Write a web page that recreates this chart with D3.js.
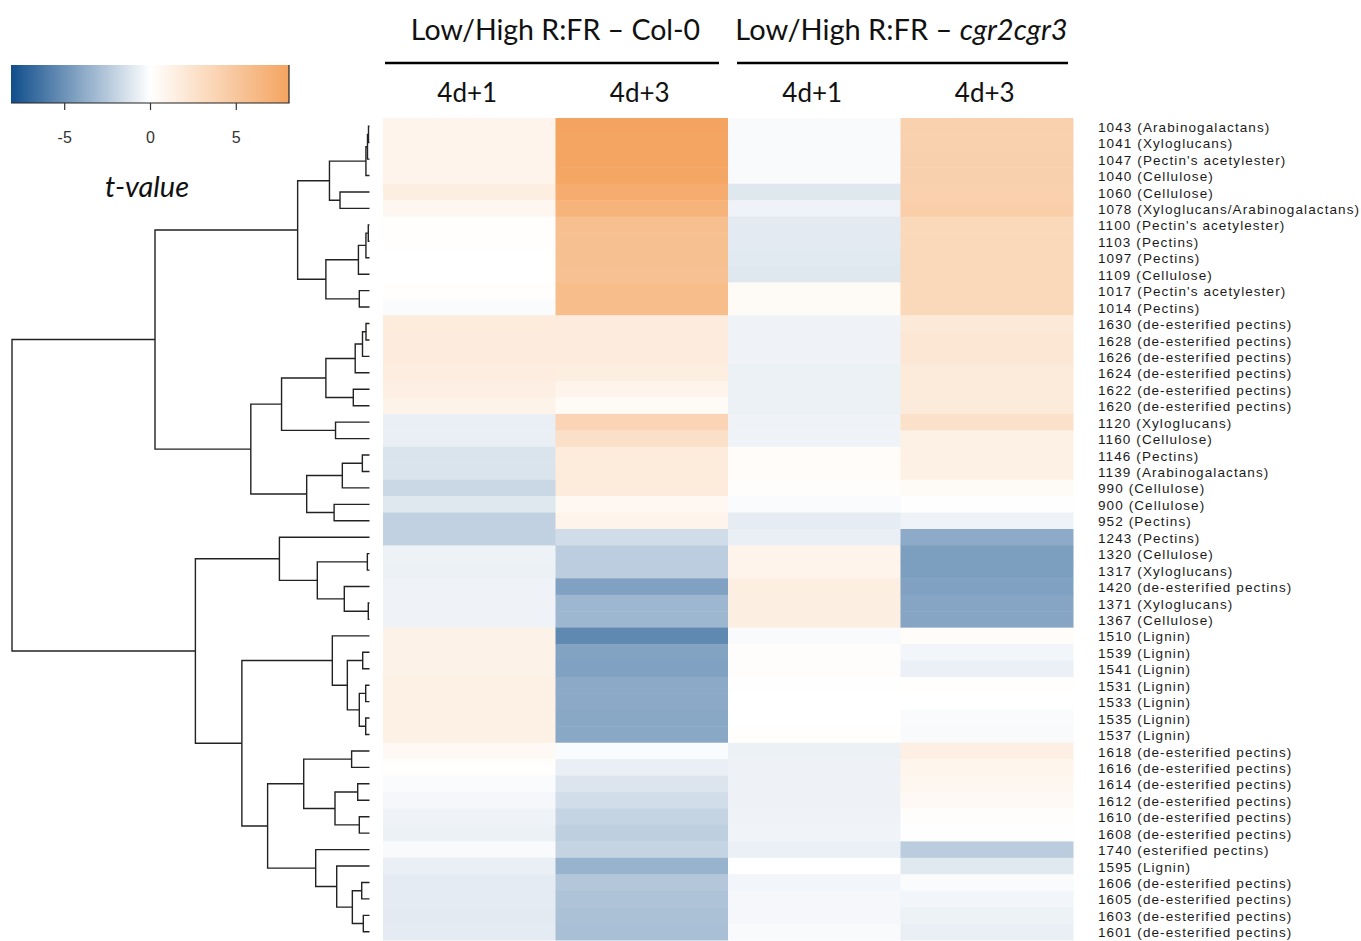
<!DOCTYPE html>
<html>
<head>
<meta charset="utf-8">
<script src="https://cdn.jsdelivr.net/npm/d3@7"></script>
<style>
  body { margin: 0; background: #fff; }
  svg { display: block; }
</style>
</head>
<body>
<svg id="chart" width="1361" height="941"></svg>
<script>
// FTIR wavenumbers (cm-1) with their assigned cell-wall component, in dendrogram order
const rowLabels = [
  "1043 (Arabinogalactans)", "1041 (Xyloglucans)", "1047 (Pectin's acetylester)", "1040 (Cellulose)",
  "1060 (Cellulose)", "1078 (Xyloglucans/Arabinogalactans)", "1100 (Pectin's acetylester)", "1103 (Pectins)",
  "1097 (Pectins)", "1109 (Cellulose)", "1017 (Pectin's acetylester)", "1014 (Pectins)",
  "1630 (de-esterified pectins)", "1628 (de-esterified pectins)", "1626 (de-esterified pectins)",
  "1624 (de-esterified pectins)", "1622 (de-esterified pectins)", "1620 (de-esterified pectins)",
  "1120 (Xyloglucans)", "1160 (Cellulose)", "1146 (Pectins)", "1139 (Arabinogalactans)",
  "990 (Cellulose)", "900 (Cellulose)", "952 (Pectins)", "1243 (Pectins)", "1320 (Cellulose)",
  "1317 (Xyloglucans)", "1420 (de-esterified pectins)", "1371 (Xyloglucans)", "1367 (Cellulose)",
  "1510 (Lignin)", "1539 (Lignin)", "1541 (Lignin)", "1531 (Lignin)", "1533 (Lignin)", "1535 (Lignin)",
  "1537 (Lignin)", "1618 (de-esterified pectins)", "1616 (de-esterified pectins)",
  "1614 (de-esterified pectins)", "1612 (de-esterified pectins)", "1610 (de-esterified pectins)",
  "1608 (de-esterified pectins)", "1740 (esterified pectins)", "1595 (Lignin)",
  "1606 (de-esterified pectins)", "1605 (de-esterified pectins)", "1603 (de-esterified pectins)",
  "1601 (de-esterified pectins)"
];

// Column headers
const titlePrefix = "Low/High R:FR \u2013 ";
const genotypeNames = ["Col-0", "cgr2cgr3"];
const genotypeItalic = [false, true];
const timepoints = ["4d+1", "4d+3", "4d+1", "4d+3"];
const columnKeys = ["col0_d1", "col0_d3", "cgr_d1", "cgr_d3"];

// t-values (Low vs High R:FR), one array per column
const tCol0Day1 = [1.0, 1.0, 1.0, 1.0, 1.5, 0.7, 0.1, 0.1, 0, 0, 0.1, -0.2,
  1.8, 1.7, 1.7, 1.6, 1.4, 1.1, -0.75, -0.75, -1.25, -1.25, -1.8, -1.1, -2.1,
  -2.1, -0.6, -0.65, -0.55, -0.55, -0.55, 1.2, 1.2, 1.2, 1.3, 1.3, 1.3, 1.3,
  0.5, 0.1, -0.2, -0.35, -0.55, -0.65, -0.25, -0.75, -0.9, -0.9, -0.95, -0.9];
const tCol0Day3 = [8.1, 8.0, 8.0, 7.9, 7.4, 6.7, 5.7, 5.6, 5.6, 5.5, 5.9, 5.9,
  1.7, 1.7, 1.7, 1.5, 1.0, 0.4, 3.8, 2.75, 1.8, 1.8, 1.8, 0.6, 1.0,
  -1.6, -2.3, -2.3, -4.3, -3.3, -3.3, -5.4, -4.2, -4.3, -3.9, -3.9, -4.0, -4.0,
  -0.2, -0.75, -1.2, -1.55, -1.95, -2.2, -1.95, -3.5, -2.55, -2.75, -2.85, -2.95];
const tCgrDay1 = [-0.25, -0.25, -0.25, -0.25, -1.1, -0.55, -0.95, -0.95, -1.0, -1.1, 0.45, 0.45,
  -0.55, -0.55, -0.55, -0.65, -0.65, -0.65, -0.55, -0.55, 0.3, 0.3, 0.15, -0.2, -0.85,
  -0.75, 0.95, 0.95, 1.5, 1.5, 1.5, -0.25, 0.15, 0.15, 0.05, 0, 0, 0.1,
  -0.65, -0.58, -0.58, -0.58, -0.55, -0.5, -0.7, 0, -0.45, -0.35, -0.35, -0.25];
const tCgrDay3 = [4.1, 4.1, 4.2, 4.2, 4.1, 4.4, 3.5, 3.5, 3.5, 3.5, 3.5, 3.5,
  2.0, 2.2, 2.2, 1.9, 1.9, 1.9, 2.7, 1.3, 1.3, 1.3, 0.4, 0.05, -0.55,
  -3.85, -4.45, -4.45, -4.3, -4.1, -4.1, 0.3, -0.45, -0.7, 0.1, 0, -0.2, -0.25,
  1.4, 0.9, 0.75, 0.5, 0.2, 0.05, -2.35, -1.05, -0.2, -0.45, -0.6, -0.75];

const legendTicks = [-5, 0, 5];
const legendTitle = "t-value";

// Row clustering: [merge height, left, right]; leaves are row indices
const rowTree =
  [10.0,
    [6.0,
      [2.01,
        [1.12,
          [0.10, [0.056, [0.028, 0, 1], 2], 3],
          [0.825, 4, 5]],
        [1.22,
          [0.31, [0.10, [0.034, 6, 7], 8], 9],
          [0.285, 10, 11]]],
      [3.32,
        [2.46,
          [1.22,
            [0.40, [0.196, [0.098, 12, 13], 14], 15],
            [0.453, 16, 17]],
          [0.95, 18, 19]],
        [1.757,
          [0.76, [0.20, 20, 21], 22],
          [0.99, 23, 24]]]],
    [4.87,
      [2.52,
        25,
        [1.46,
          [0.06, 26, 27],
          [0.705, 28, [0.034, 29, 30]]]],
      [3.57,
        [1.04,
          31,
          [0.62,
            [0.19, 32, 33],
            [0.285, [0.106, 34, 35], [0.106, 36, 37]]]],
        [2.85,
          [1.84,
            [0.50, 38, 39],
            [0.965, [0.33, 40, 41], [0.285, 42, 43]]],
          [1.505,
            44,
            [0.917,
              45,
              [0.48, [0.218, 46, 47], [0.173, 48, 49]]]]]]]];

// ---------------------------------------------------------------------------
const columnValues = [tCol0Day1, tCol0Day3, tCgrDay1, tCgrDay3];
const cells = [];
columnKeys.forEach((key, c) => {
  columnValues[c].forEach((v, r) => cells.push({ key, row: rowLabels[r], value: v }));
});

const svg = d3.select("#chart");
const sansFont = "Arial, 'Liberation Sans', Helvetica, sans-serif";
const headFont = "Lato, 'Open Sans', sans-serif";

const heat = { left: 383, right: 1073, top: 118, bottom: 940 };
const x = d3.scaleBand().domain(columnKeys).range([heat.left, heat.right]);
const y = d3.scaleBand().domain(rowLabels).range([heat.top, heat.bottom]);

const maxAbs = d3.max(cells, d => Math.abs(d.value));
const color = d3.scaleLinear()
  .domain([-maxAbs, 0, maxAbs])
  .range(["#104E8B", "#FFFFFF", "#F4A460"])
  .interpolate(d3.interpolateRgb);

// Heatmap cells
svg.append("g")
  .selectAll("rect")
  .data(cells)
  .join("rect")
  .attr("x", d => x(d.key))
  .attr("y", d => y(d.row))
  .attr("width", x.bandwidth() + 0.5)
  .attr("height", y.bandwidth() + 0.5)
  .attr("fill", d => color(d.value));

// Row labels
svg.append("g")
  .selectAll("text")
  .data(rowLabels)
  .join("text")
  .attr("x", heat.right + 25)
  .attr("y", d => y(d) + y.bandwidth() / 2 + 2)
  .attr("dominant-baseline", "middle")
  .attr("font-family", sansFont)
  .attr("font-size", 13.5)
  .attr("letter-spacing", 1.1)
  .attr("fill", "#1a1a1a")
  .text(d => d);

// Timepoint labels
svg.append("g")
  .selectAll("text")
  .data(columnKeys)
  .join("text")
  .attr("x", d => x(d) + x.bandwidth() / 2 - 2)
  .attr("y", 102)
  .attr("text-anchor", "middle")
  .attr("font-family", headFont)
  .attr("font-size", 26)
  .attr("fill", "#111")
  .text((d, i) => timepoints[i]);

// Genotype headers with rules underneath
genotypeNames.forEach((name, g) => {
  const x0 = x(columnKeys[g * 2]);
  const x1 = x(columnKeys[g * 2 + 1]) + x.bandwidth();
  const t = svg.append("text")
    .attr("x", (x0 + x1) / 2 + (g === 0 ? 0 : 1))
    .attr("y", 40)
    .attr("text-anchor", "middle")
    .attr("font-family", headFont)
    .attr("font-size", g === 0 ? 28.5 : 29)
    .attr("fill", "#111");
  t.append("tspan").text(titlePrefix);
  t.append("tspan").attr("font-style", genotypeItalic[g] ? "italic" : "normal").text(name);
  svg.append("line")
    .attr("x1", x0 + (g === 0 ? 2 : 9)).attr("x2", x1 - (g === 0 ? 9 : 5))
    .attr("y1", 63).attr("y2", 63)
    .attr("stroke", "#000").attr("stroke-width", 2.5);
});

// Dendrogram
const root = d3.hierarchy(rowTree, d => Array.isArray(d) ? d.slice(1) : null);
const xd = d3.scaleLinear().domain([0, rowTree[0]]).range([369.5, 12]);
root.eachAfter(n => {
  if (n.children) {
    n.h = n.data[0];
    n.yy = d3.mean(n.children, c => c.yy);
  } else {
    n.h = 0;
    n.yy = y(rowLabels[n.data]) + y.bandwidth() / 2;
  }
});
const links = root.descendants().filter(n => n.children);
svg.append("g")
  .selectAll("path")
  .data(links)
  .join("path")
  .attr("d", n => {
    const [a, b] = n.children;
    return `M${xd(a.h)},${a.yy}H${xd(n.h)}V${b.yy}H${xd(b.h)}`;
  })
  .attr("fill", "none")
  .attr("stroke", "#222")
  .attr("stroke-width", 1.4);

// Colour key
const key = { x0: 11, x1: 289, y0: 65, y1: 103 };
const kx = d3.scaleLinear().domain([-maxAbs, maxAbs]).range([key.x0, key.x1]);
const grad = svg.append("defs").append("linearGradient")
  .attr("id", "keyGradient").attr("x1", "0%").attr("x2", "100%");
d3.range(0, 1.0001, 0.05).forEach(p => {
  grad.append("stop")
    .attr("offset", `${p * 100}%`)
    .attr("stop-color", color(-maxAbs + p * 2 * maxAbs));
});
svg.append("rect")
  .attr("x", key.x0).attr("y", key.y0)
  .attr("width", key.x1 - key.x0).attr("height", key.y1 - key.y0)
  .attr("fill", "url(#keyGradient)");
svg.append("path")
  .attr("d", `M${key.x1},${key.y0}V${key.y1}H${key.x0}`)
  .attr("fill", "none").attr("stroke", "#222").attr("stroke-width", 1.2);

const keyAxis = d3.axisBottom(kx).tickValues(legendTicks).tickSize(7).tickPadding(22)
  .tickFormat(d => String(d));
const ka = svg.append("g").attr("transform", `translate(0,${key.y1})`).call(keyAxis);
ka.select(".domain").remove();
ka.selectAll(".tick line").attr("stroke", "#333").attr("stroke-width", 1.2);
ka.selectAll(".tick text")
  .attr("font-family", sansFont)
  .attr("font-size", 16)
  .attr("fill", "#333");

svg.append("text")
  .attr("x", 147).attr("y", 197)
  .attr("text-anchor", "middle")
  .attr("font-family", headFont)
  .attr("font-style", "italic")
  .attr("font-size", 29)
  .attr("fill", "#111")
  .text(legendTitle);
</script>
</body>
</html>
